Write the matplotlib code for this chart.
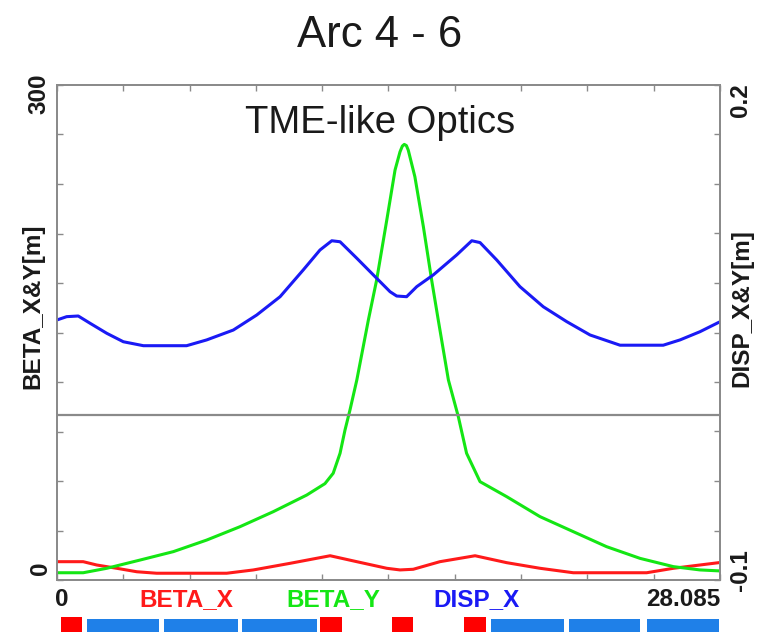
import matplotlib
matplotlib.use("Agg")
import matplotlib.pyplot as plt
import numpy as np

plt.rcParams['font.family'] = ['Liberation Sans', 'DejaVu Sans']

# ---------------- data ----------------
s_end = 28.085

disp_s = [0.0, 0.41, 0.90, 1.40, 2.11, 2.81, 3.66, 5.49, 6.34, 7.47, 8.46, 9.45, 10.43,
          11.14, 11.64, 11.99, 12.70, 13.40, 14.11, 14.39, 14.81, 15.24, 15.94, 16.93,
          17.57, 17.92, 18.63, 19.61, 20.60, 21.59, 22.58, 23.85, 25.68, 26.39, 27.24,
          28.01, 28.085]
disp_x = [0.0576, 0.0596, 0.0600, 0.0556, 0.0495, 0.0444, 0.0420, 0.0420, 0.0455, 0.0515,
          0.0606, 0.0717, 0.0879, 0.1000, 0.1056, 0.1050, 0.0950, 0.0849, 0.0747, 0.0721,
          0.0717, 0.0778, 0.0849, 0.0970, 0.1056, 0.1045, 0.0939, 0.0778, 0.0656, 0.0566,
          0.0485, 0.0423, 0.0423, 0.0455, 0.0505, 0.0560, 0.0565]

bety_s = [0.0, 1.11, 2.11, 3.52, 4.93, 6.34, 7.75, 9.16, 10.58, 11.35, 11.70, 11.99,
          12.20, 12.41, 12.70, 13.19, 13.54, 13.97, 14.32, 14.53, 14.63, 14.71, 14.80,
          14.88, 15.16, 15.52, 15.87, 16.15, 16.58, 17.00, 17.35, 17.92, 19.05, 20.46,
          21.87, 23.28, 24.70, 26.11, 27.24, 28.085]
beta_y = [4.4, 4.4, 7.1, 12.1, 17.2, 24.2, 32.3, 41.4, 51.5, 58.4, 64.7, 76.8, 90.9,
          103.0, 121.2, 157.6, 181.8, 218.2, 248.5, 259.5, 263.0, 264.0, 263.3, 260.5,
          244.4, 214.1, 181.8, 157.6, 121.2, 99.0, 76.8, 59.6, 50.5, 38.4, 29.3, 20.2,
          13.1, 8.1, 6.1, 5.5]

betx_s = [0.0, 1.11, 1.68, 2.53, 3.38, 4.22, 7.19, 8.32, 9.87, 11.57, 12.70, 13.97, 14.53,
          15.09, 16.22, 17.71, 19.05, 20.46, 21.87, 24.98, 26.11, 27.24, 28.085]
beta_x = [11.1, 11.1, 9.1, 7.1, 5.0, 4.1, 4.1, 6.1, 10.1, 14.7, 11.1, 7.1, 6.1, 6.5,
          11.1, 14.7, 10.5, 7.1, 4.4, 4.4, 7.1, 9.1, 10.6]

# lattice elements: (start, length)
quad_elems = [(0.17, 0.89), (11.16, 0.93), (14.21, 0.89), (17.22, 0.94)]
bend_elems = [(1.26, 3.08), (4.54, 3.14), (7.85, 3.18), (18.37, 3.10),
              (21.68, 3.01), (24.99, 3.05)]

# ---------------- figure ----------------
W, H = 764, 632
fig = plt.figure(figsize=(W / 100, H / 100), dpi=100)

def fx(px):
    return px / W

def fy(py):
    return 1 - py / H

L, R, T, B = 57, 720, 85, 580
ax = fig.add_axes([fx(L), fy(B), (R - L) / W, (B - T) / H])
ax2 = ax.twinx()

gray = '#8a8a8a'
ax.set_xlim(0, s_end)
ax.set_ylim(0, 300)
ax2.set_ylim(-0.1, 0.2)

for a in (ax, ax2):
    for sp in a.spines.values():
        sp.set_color(gray)
        sp.set_linewidth(1.3)

ax.set_xticks(np.linspace(0, s_end, 11))
ax.set_yticks(np.linspace(0, 300, 11))
ax2.set_yticks(np.linspace(-0.1, 0.2, 11))
ax.tick_params(axis='both', which='both', direction='in', length=4, color=gray,
               width=1.0, top=True, labelleft=False, labelbottom=False)
ax2.tick_params(axis='y', direction='in', length=4, color=gray, width=1.0,
                labelright=False)

ax2.axhline(0.0, color=gray, lw=1.6)
ax.plot(betx_s, beta_x, color='#ff1a1a', lw=2.2, solid_joinstyle='round')
ax.plot(bety_s, beta_y, color='#14e614', lw=2.2, solid_joinstyle='round')
ax2.plot(disp_s, disp_x, color='#1a1af5', lw=2.2, solid_joinstyle='round')

# ---------------- texts ----------------
fig.text(fx(380), fy(47), 'Arc 4 - 6', ha='center', va='baseline', fontsize=31.5,
         color='#1a1a1a')
fig.text(fx(380), fy(133), 'TME-like Optics', ha='center', va='baseline', fontsize=27.5,
         color='#1a1a1a')

bold = dict(fontsize=17.5, fontweight='bold')
fig.text(fx(33), fy(306), 'BETA_X&Y[m]', rotation=90, ha='center', va='center',
         color='#1a1a1a', **bold)
fig.text(fx(742), fy(308), 'DISP_X&Y[m]', rotation=90, ha='center', va='center',
         color='#1a1a1a', **bold)
fig.text(fx(39), fy(94), '300', rotation=90, ha='center', va='center', color='#1a1a1a', **bold)
fig.text(fx(41), fy(568), '0', rotation=90, ha='center', va='center', color='#1a1a1a', **bold)
fig.text(fx(741), fy(100), '0.2', rotation=90, ha='center', va='center', color='#1a1a1a', **bold)
fig.text(fx(740), fy(570), '-0.1', rotation=90, ha='center', va='center', color='#1a1a1a', **bold)

fig.text(fx(62), fy(600), '0', ha='center', va='center', color='#1a1a1a', **bold)
fig.text(fx(720), fy(600), '28.085', ha='right', va='center', color='#1a1a1a', **bold)
fig.text(fx(186), fy(600), 'BETA_X', ha='center', va='center', color='#ff1a1a', **bold)
fig.text(fx(333), fy(600), 'BETA_Y', ha='center', va='center', color='#14e614', **bold)
fig.text(fx(476), fy(600), 'DISP_X', ha='center', va='center', color='#1a1af5', **bold)

# ---------------- lattice strip ----------------
axm = fig.add_axes([fx(L), 0, (R - L) / W, 15 / H])
axm.set_xlim(0, s_end)
axm.set_ylim(0, 1)
axm.axis('off')
axm.broken_barh(bend_elems, (0, 0.87), facecolors='#1f80e8')
axm.broken_barh(quad_elems, (0, 1.0), facecolors='#ff0000')

fig.savefig('out.png', dpi=100)
